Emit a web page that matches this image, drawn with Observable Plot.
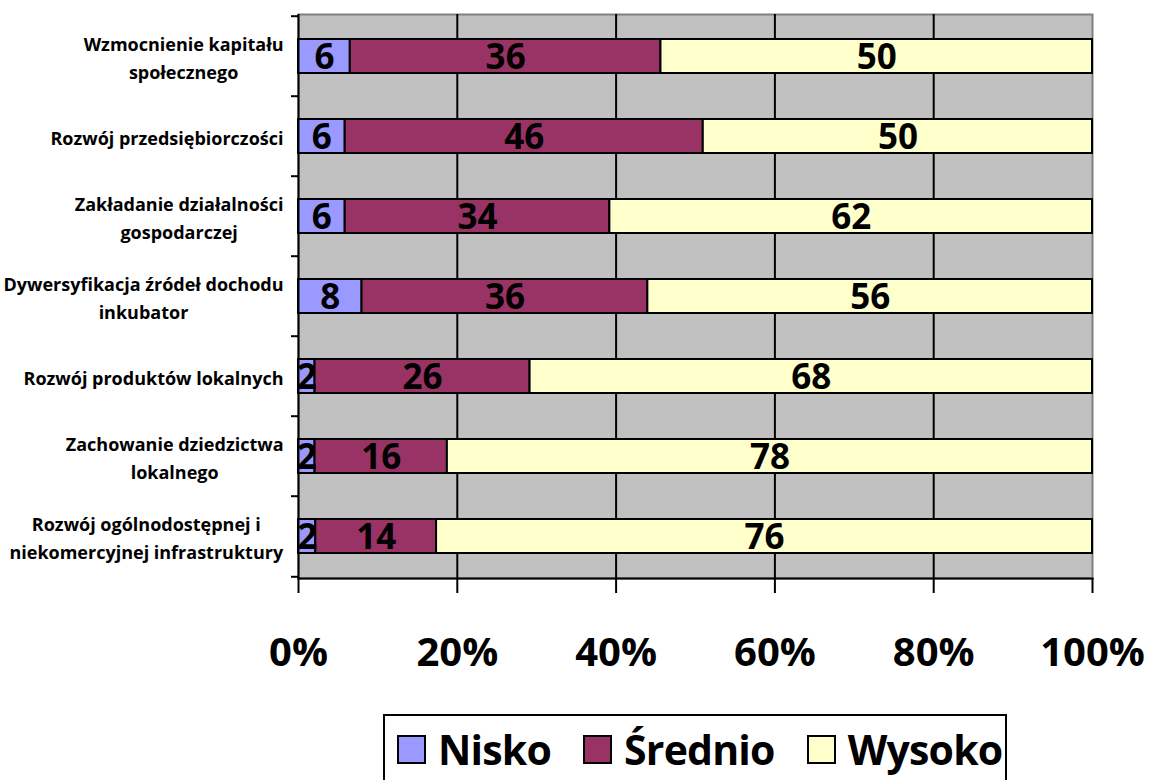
<!DOCTYPE html>
<html>
<head>
<meta charset="utf-8">
<script src="https://cdn.jsdelivr.net/npm/d3@7"></script>
<script src="https://cdn.jsdelivr.net/npm/@observablehq/plot@0.6"></script>
<style>
  html, body { margin: 0; padding: 0; background: #fff; }
  #chart svg { display: block; }
  .legend {
    margin-left: 383px;
    margin-top: 24px;
    width: 624px;
    height: 80px;
    box-sizing: border-box;
    border: 2px solid #000;
    padding-top: 19px;
    padding-left: 12px;
    display: flex;
    align-items: flex-start;
    font-family: "Open Sans", sans-serif;
    font-weight: 700;
    font-size: 41px;
    letter-spacing: -0.8px;
  }
  .legend .item { display: flex; align-items: center; height: 29px; margin-right: 32px; }
  .legend .sw { width: 29px; height: 29px; box-sizing: border-box; border: 2px solid #000; margin-right: 12px; }
  .legend .lab { line-height: 29px; white-space: nowrap; }
</style>
</head>
<body>
<div id="chart"></div>
<script>
const categories = [
  "Wzmocnienie kapitału\nspołecznego",
  "Rozwój przedsiębiorczości",
  "Zakładanie działalności\ngospodarczej",
  "Dywersyfikacja źródeł dochodu\ninkubator",
  "Rozwój produktów lokalnych",
  "Zachowanie dziedzictwa\nlokalnego",
  "Rozwój ogólnodostępnej i\nniekomercyjnej infrastruktury"
];
const levels = ["Nisko", "Średnio", "Wysoko"];
const nisko   = [6, 6, 6, 8, 2, 2, 2];
const srednio = [36, 46, 34, 36, 26, 16, 14];
const wysoko  = [50, 50, 62, 56, 68, 78, 76];
const colors = ["#9999FF", "#993366", "#FFFFCC"];
const xTicks = [0, 0.2, 0.4, 0.6, 0.8, 1];
const gridTicks = [0.2, 0.4, 0.6, 0.8];

const series = [nisko, srednio, wysoko];
const rows = [];
categories.forEach((c, i) => {
  levels.forEach((l, j) => rows.push({category: c, level: l, value: series[j][i]}));
});

const W = 1151, H = 690, mt = 14, mb = 112, ml = 298, mr = 59;
const step = (H - mt - mb) / categories.length;

const plot = Plot.plot({
  width: W, height: H,
  marginTop: mt, marginBottom: mb, marginLeft: ml, marginRight: mr,
  style: {fontFamily: "Open Sans", background: "white", color: "black"},
  x: {domain: [0, 1], label: null},
  y: {domain: categories, paddingInner: 0.58, paddingOuter: 0.29, label: null},
  color: {domain: levels, range: colors},
  marks: [
    Plot.frame({fill: "#C0C0C0", stroke: "#808080", strokeWidth: 2}),
    Plot.ruleX(gridTicks, {stroke: "black", strokeWidth: 2}),
    Plot.barX(rows, Plot.stackX({x: "value", y: "category", fill: "level", offset: "normalize", stroke: "black", strokeWidth: 2})),
    Plot.text(rows, Plot.stackX({x: "value", y: "category", z: "level", text: "value", offset: "normalize",
      fill: "black", fontSize: 35, fontWeight: "bold", dy: 1, clip: true})),
    Plot.ruleX([0], {stroke: "black", strokeWidth: 2}),
    Plot.frame({anchor: "bottom", stroke: "black", strokeWidth: 2}),
    Plot.axisX({ticks: xTicks, tickFormat: d3.format(".0%"), tickSize: 15, tickPadding: 44,
      fontSize: 40, fontWeight: "bold", strokeWidth: 2, label: null}),
    Plot.axisY({tickSize: 0, tickPadding: 15, fontSize: 18, fontWeight: "bold", lineHeight: 1.55, label: null}),
    Plot.axisY({tickSize: 7, fill: "none", strokeWidth: 2, dy: -step / 2, label: null}),
    Plot.axisY({ticks: [categories[categories.length - 1]], tickSize: 7, fill: "none", strokeWidth: 2, dy: step / 2, label: null})
  ]
});

const root = document.getElementById("chart");
root.appendChild(plot);

// centre multi-line category labels on their own width (right edge kept)
d3.select(plot).selectAll('g[aria-label="y-axis tick label"] text').each(function() {
  const w = this.getBBox().width;
  const t = this.getAttribute("transform") || "";
  this.setAttribute("text-anchor", "middle");
  this.setAttribute("transform", t + ` translate(${-w / 2},0)`);
});

// legend
const legend = d3.select("body").append("div").attr("class", "legend");
levels.forEach((l, j) => {
  const it = legend.append("div").attr("class", "item");
  it.append("div").attr("class", "sw").style("background", colors[j]);
  it.append("span").attr("class", "lab").text(l);
});
</script>
</body>
</html>
